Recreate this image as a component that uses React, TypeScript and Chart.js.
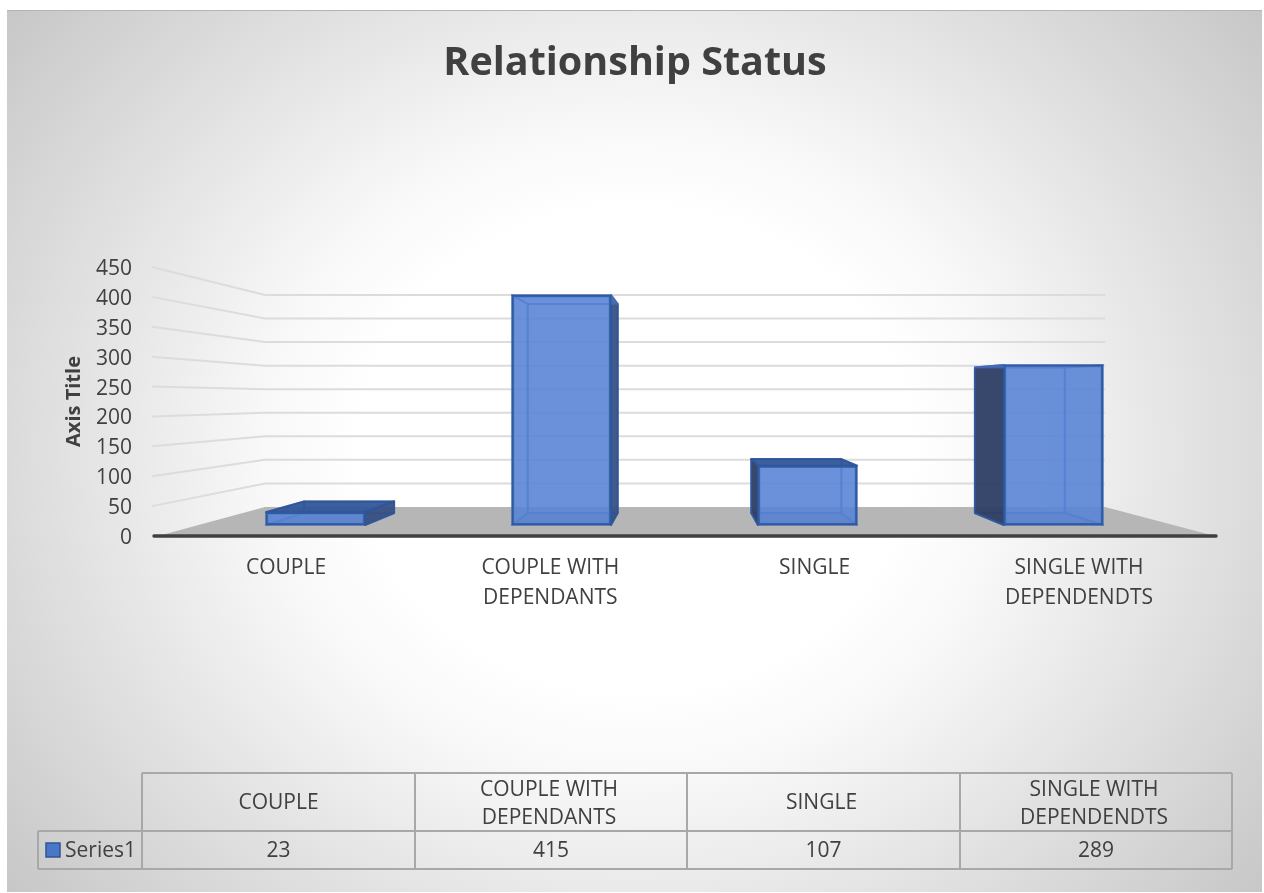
import React, { useEffect, useRef } from "react";
import { Chart, registerables } from "chart.js";

Chart.register(...registerables);

const chartTitle = "Relationship Status";
const axisTitle = "Axis Title";
const seriesName = "Series1";
const categories = ["COUPLE", "COUPLE WITH DEPENDANTS", "SINGLE", "SINGLE WITH DEPENDENDTS"];
const categoryLines = [["COUPLE"], ["COUPLE WITH", "DEPENDANTS"], ["SINGLE"], ["SINGLE WITH", "DEPENDENDTS"]];
const seriesValues = [23, 415, 107, 289];

const FONT = '"Open Sans", sans-serif';
const TEXT = "#404040";

function project(px: number, py: number, vx: number, vy: number, f: number): [number, number] {
  return [vx + (px - vx) * f, vy + (py - vy) * f];
}

function poly(ctx: CanvasRenderingContext2D, pts: [number, number][], fill: string | null, stroke: string | null, lw = 2) {
  ctx.beginPath();
  pts.forEach((p, i) => (i ? ctx.lineTo(p[0], p[1]) : ctx.moveTo(p[0], p[1])));
  ctx.closePath();
  if (fill) {
    ctx.fillStyle = fill;
    ctx.fill();
  }
  if (stroke) {
    ctx.strokeStyle = stroke;
    ctx.lineWidth = lw;
    ctx.lineJoin = "round";
    ctx.stroke();
  }
}

const scenePlugin = {
  id: "scene3d",
  beforeDraw(chart: any) {
    const { ctx } = chart;
    const L = 7, T = 10, R = 1262, B = 892;
    ctx.save();
    ctx.beginPath();
    ctx.rect(L, T, R - L, B - T);
    ctx.clip();
    ctx.translate(635, 450);
    ctx.scale(1, 0.88);
    const g = ctx.createRadialGradient(0, 0, 0, 0, 0, 830);
    g.addColorStop(0, "#ffffff");
    g.addColorStop(0.33, "#ffffff");
    g.addColorStop(0.45, "#f8f8f8");
    g.addColorStop(0.68, "#e2e2e2");
    g.addColorStop(1, "#c4c4c4");
    ctx.fillStyle = g;
    ctx.fillRect(-800, -800, 1600, 1600);
    ctx.restore();
    ctx.save();
    ctx.strokeStyle = "#b4b4b4";
    ctx.lineWidth = 1;
    ctx.beginPath();
    ctx.moveTo(L, T + 0.5);
    ctx.lineTo(R, T + 0.5);
    ctx.stroke();
    ctx.restore();
  },
  beforeDatasetsDraw(chart: any) {
    const { ctx, scales } = chart;
    const y = scales.y;
    const x = scales.x;
    const vx = 685, vy = 399, f = 0.788;
    const y0 = y.getPixelForValue(0);
    ctx.save();
    // floor
    const bl = project(x.left, y0, vx, vy, f);
    const br = project(x.right, y0, vx, vy, f);
    poly(ctx, [[x.left + 6, y0], [x.right - 3, y0], br, bl], "#b6b6b6", null);
    // walls
    ctx.strokeStyle = "#dcdcdc";
    ctx.lineWidth = 2;
    y.ticks.forEach((t: any) => {
      if (t.value === 0) return;
      const py = y.getPixelForValue(t.value);
      const b = project(x.left, py, vx, vy, f);
      const e = project(x.right, py, vx, vy, f);
      ctx.beginPath();
      ctx.moveTo(x.left, py);
      ctx.lineTo(b[0], b[1]);
      ctx.lineTo(e[0], e[1]);
      ctx.stroke();
    });
    // 3D bar faces behind the library's own front face
    const bvx = 685, bvy = 393, bf = 0.909;
    const DARK = "rgba(44,58,92,0.88)";
    const DARK_SIDE = "rgba(52,76,125,0.85)";
    const DARK_TOP = "rgba(48,84,150,0.88)";
    const INNER = "rgba(68,114,196,0.6)";
    const EDGE = "rgba(47,85,151,0.9)";
    const INNER_EDGE = "rgba(70,110,190,0.7)";
    chart.getDatasetMeta(0).data.forEach((el: any) => {
      const l = el.x - el.width / 2;
      const r = el.x + el.width / 2;
      const t = el.y;
      const b = el.base;
      const P = (a: number, c: number) => project(a, c, bvx, bvy, bf);
      const [bl2, bt2] = P(l, t);
      const [br2, bb2] = P(r, b);
      poly(ctx, [[bl2, bt2], [br2, bt2], [br2, bb2], [bl2, bb2]], "rgba(68,114,196,0.6)", INNER_EDGE);
      const leftOut = bl2 < l;
      const rightOut = br2 > r;
      const topOut = bt2 < t;
      poly(ctx, [[l, b], [bl2, bb2], [br2, bb2], [r, b]], "rgba(60,100,180,0.6)", INNER_EDGE);
      poly(ctx, [[l, t], [bl2, bt2], [bl2, bb2], [l, b]], leftOut ? DARK : INNER, leftOut ? EDGE : INNER_EDGE);
      poly(ctx, [[r, t], [br2, bt2], [br2, bb2], [r, b]], rightOut ? DARK_SIDE : INNER, rightOut ? EDGE : INNER_EDGE);
      poly(ctx, [[l, t], [r, t], [br2, bt2], [bl2, bt2]], topOut ? DARK_TOP : INNER, topOut ? EDGE : INNER_EDGE);
    });
    ctx.restore();
  },
  afterDatasetsDraw(chart: any) {
    const { ctx, scales } = chart;
    const y0 = scales.y.getPixelForValue(0);
    ctx.save();
    ctx.strokeStyle = "#404040";
    ctx.lineWidth = 3.5;
    ctx.lineCap = "round";
    ctx.beginPath();
    ctx.moveTo(scales.x.left + 2, y0);
    ctx.lineTo(scales.x.right - 2, y0);
    ctx.stroke();
    ctx.restore();
  },
  afterDraw(chart: any) {
    const { ctx } = chart;
    const cols = [142, 415, 687, 960, 1232];
    const rows = [773, 831, 869];
    const keyLeft = 38;
    ctx.save();
    ctx.strokeStyle = "#a8a8a8";
    ctx.lineWidth = 2;
    ctx.beginPath();
    ctx.moveTo(cols[0], rows[0]);
    ctx.lineTo(cols[4], rows[0]);
    ctx.moveTo(keyLeft, rows[1]);
    ctx.lineTo(cols[4], rows[1]);
    ctx.moveTo(keyLeft, rows[2]);
    ctx.lineTo(cols[4], rows[2]);
    ctx.moveTo(keyLeft, rows[1]);
    ctx.lineTo(keyLeft, rows[2]);
    cols.forEach((c) => {
      ctx.moveTo(c, rows[0]);
      ctx.lineTo(c, rows[2]);
    });
    ctx.stroke();
    ctx.fillStyle = TEXT;
    ctx.font = `21px ${FONT}`;
    ctx.textAlign = "center";
    ctx.textBaseline = "middle";
    categoryLines.forEach((lines, i) => {
      const cx = (cols[i] + cols[i + 1]) / 2;
      const cy = (rows[0] + rows[1]) / 2 + 1;
      const n = lines.length;
      lines.forEach((ln, j) => {
        ctx.fillText(ln, cx - (i > 0 ? 2 : 0), cy + (j - (n - 1) / 2) * 28 + (n > 1 ? 1 : 0));
      });
      ctx.fillText(String(seriesValues[i]), cx, (rows[1] + rows[2]) / 2 + 1);
    });
    ctx.fillStyle = "#4a76c8";
    ctx.strokeStyle = "#2f5597";
    ctx.lineWidth = 1.5;
    ctx.fillRect(46, 843, 14, 14);
    ctx.strokeRect(46, 843, 14, 14);
    ctx.fillStyle = TEXT;
    ctx.textAlign = "left";
    ctx.fillText(seriesName, 65, (rows[1] + rows[2]) / 2 + 1);
    ctx.restore();
  },
};

export default function App() {
  const ref = useRef<HTMLCanvasElement | null>(null);
  useEffect(() => {
    if (!ref.current) return;
    const chart = new Chart(ref.current, {
      type: "bar",
      data: {
        labels: categories,
        datasets: [
          {
            label: seriesName,
            data: seriesValues.map((v, i) => ({ x: i, y: v })),
            xAxisID: "xBar",
            yAxisID: "yBar",
            backgroundColor: "rgba(92,136,216,0.72)",
            borderColor: "#2f5a9f",
            borderWidth: 2,
            borderSkipped: false,
            barThickness: 99,
          },
        ],
      },
      options: {
        animation: false,
        responsive: false,
        devicePixelRatio: 1,
        layout: { padding: { left: 52, right: 46, top: 0, bottom: 0 } },
        plugins: {
          legend: { display: false },
          tooltip: { enabled: false },
          title: {
            display: true,
            text: chartTitle,
            color: TEXT,
            font: { family: FONT, size: 39.5, weight: "bold", lineHeight: 1.2 },
            padding: { top: 40.5, bottom: 179.1 },
          },
        },
        scales: {
          x: {
            type: "linear",
            offset: false,
            min: -0.507,
            max: 3.526,
            grid: { display: false },
            border: { display: false },
            afterFit(s: any) {
              s.height = 357;
            },
            afterBuildTicks(s: any) {
              s.ticks = categoryLines.map((_, i) => ({ value: i }));
            },
            ticks: {
              color: TEXT,
              font: { family: FONT, size: 21, lineHeight: 30 / 21 },
              padding: 9,
              maxRotation: 0,
              autoSkip: false,
              callback: (_v: any, i: number) => categoryLines[i],
            },
          },
          y: {
            type: "linear",
            min: 0,
            max: 450,
            grid: { display: false },
            border: { display: false },
            afterFit(s: any) {
              s.width = 100;
            },
            ticks: {
              stepSize: 50,
              color: TEXT,
              font: { family: FONT, size: 21 },
              padding: 12,
              labelOffset: 2,
            },
            title: {
              display: true,
              text: axisTitle,
              color: TEXT,
              font: { family: FONT, size: 20, weight: "bold" },
              padding: { top: 10, bottom: 0 },
            },
          },
          xBar: {
            type: "linear",
            display: false,
            offset: false,
            min: -0.6646,
            max: 3.669,
            grid: { display: false, offset: false },
          },
          yBar: {
            type: "linear",
            display: false,
            min: -19.86,
            max: 465.7,
            grid: { display: false },
          },
        },
      },
      plugins: [scenePlugin],
    } as any);
    return () => chart.destroy();
  }, []);
  return (
    <canvas
      ref={ref}
      width={1264}
      height={893}
      style={{ position: "absolute", left: 0, top: 0, display: "block" }}
    />
  );
}
